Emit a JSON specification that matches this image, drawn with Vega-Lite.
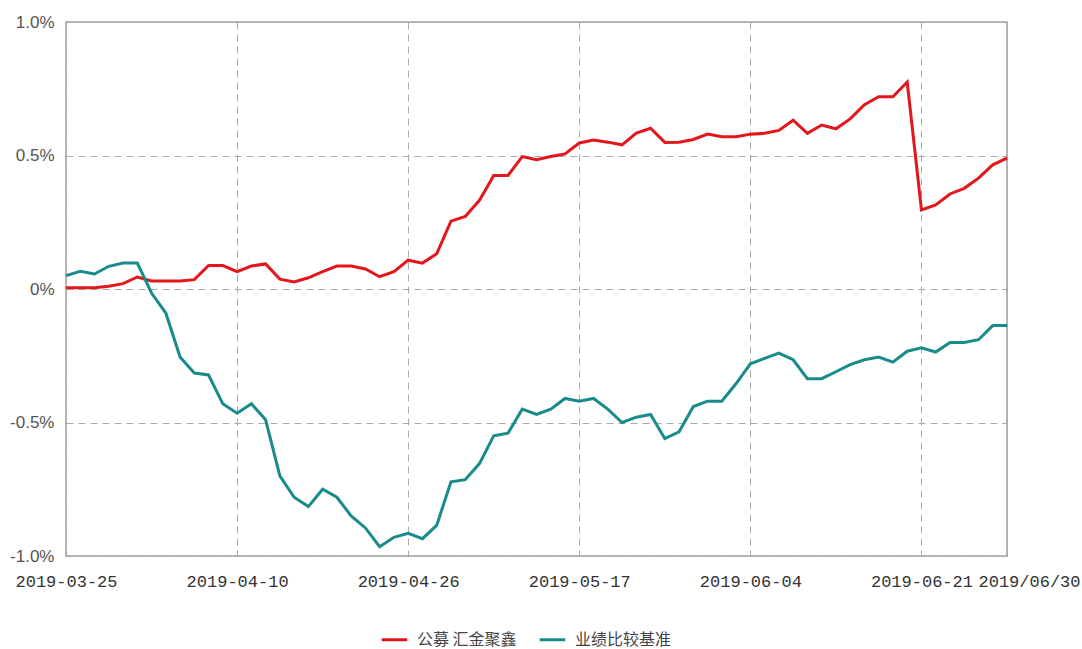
{
  "$schema": "https://vega.github.io/schema/vega-lite/v6.json",
  "autosize": {"type": "none"},
  "padding": {"left": 66, "top": 22, "right": 75, "bottom": 93},
  "width": 941,
  "height": 534,
  "background": "#ffffff",
  "config": {
    "view": {"stroke": "#a0a0a0", "strokeWidth": 1.5},
    "axis": {"domain": false, "ticks": false}
  },
  "data": {
    "values": [
      {"date": "2019-03-25", "series": "公募 汇金聚鑫", "value": 0.005},
      {"date": "2019-03-26", "series": "公募 汇金聚鑫", "value": 0.005},
      {"date": "2019-03-27", "series": "公募 汇金聚鑫", "value": 0.005},
      {"date": "2019-03-28", "series": "公募 汇金聚鑫", "value": 0.01},
      {"date": "2019-03-29", "series": "公募 汇金聚鑫", "value": 0.02},
      {"date": "2019-04-01", "series": "公募 汇金聚鑫", "value": 0.045},
      {"date": "2019-04-02", "series": "公募 汇金聚鑫", "value": 0.03},
      {"date": "2019-04-03", "series": "公募 汇金聚鑫", "value": 0.03},
      {"date": "2019-04-04", "series": "公募 汇金聚鑫", "value": 0.03},
      {"date": "2019-04-05", "series": "公募 汇金聚鑫", "value": 0.035},
      {"date": "2019-04-08", "series": "公募 汇金聚鑫", "value": 0.088},
      {"date": "2019-04-09", "series": "公募 汇金聚鑫", "value": 0.088},
      {"date": "2019-04-10", "series": "公募 汇金聚鑫", "value": 0.065},
      {"date": "2019-04-11", "series": "公募 汇金聚鑫", "value": 0.086},
      {"date": "2019-04-12", "series": "公募 汇金聚鑫", "value": 0.094},
      {"date": "2019-04-15", "series": "公募 汇金聚鑫", "value": 0.037},
      {"date": "2019-04-16", "series": "公募 汇金聚鑫", "value": 0.026},
      {"date": "2019-04-17", "series": "公募 汇金聚鑫", "value": 0.042},
      {"date": "2019-04-18", "series": "公募 汇金聚鑫", "value": 0.065},
      {"date": "2019-04-19", "series": "公募 汇金聚鑫", "value": 0.086},
      {"date": "2019-04-22", "series": "公募 汇金聚鑫", "value": 0.086},
      {"date": "2019-04-23", "series": "公募 汇金聚鑫", "value": 0.075},
      {"date": "2019-04-24", "series": "公募 汇金聚鑫", "value": 0.046},
      {"date": "2019-04-25", "series": "公募 汇金聚鑫", "value": 0.065},
      {"date": "2019-04-26", "series": "公募 汇金聚鑫", "value": 0.108},
      {"date": "2019-04-29", "series": "公募 汇金聚鑫", "value": 0.097},
      {"date": "2019-04-30", "series": "公募 汇金聚鑫", "value": 0.132},
      {"date": "2019-05-06", "series": "公募 汇金聚鑫", "value": 0.254},
      {"date": "2019-05-07", "series": "公募 汇金聚鑫", "value": 0.272},
      {"date": "2019-05-08", "series": "公募 汇金聚鑫", "value": 0.332},
      {"date": "2019-05-09", "series": "公募 汇金聚鑫", "value": 0.425},
      {"date": "2019-05-10", "series": "公募 汇金聚鑫", "value": 0.425},
      {"date": "2019-05-13", "series": "公募 汇金聚鑫", "value": 0.496},
      {"date": "2019-05-14", "series": "公募 汇金聚鑫", "value": 0.484},
      {"date": "2019-05-15", "series": "公募 汇金聚鑫", "value": 0.496},
      {"date": "2019-05-16", "series": "公募 汇金聚鑫", "value": 0.506},
      {"date": "2019-05-17", "series": "公募 汇金聚鑫", "value": 0.547},
      {"date": "2019-05-20", "series": "公募 汇金聚鑫", "value": 0.558},
      {"date": "2019-05-21", "series": "公募 汇金聚鑫", "value": 0.55},
      {"date": "2019-05-22", "series": "公募 汇金聚鑫", "value": 0.54},
      {"date": "2019-05-23", "series": "公募 汇金聚鑫", "value": 0.584},
      {"date": "2019-05-24", "series": "公募 汇金聚鑫", "value": 0.602},
      {"date": "2019-05-27", "series": "公募 汇金聚鑫", "value": 0.549},
      {"date": "2019-05-28", "series": "公募 汇金聚鑫", "value": 0.55},
      {"date": "2019-05-29", "series": "公募 汇金聚鑫", "value": 0.56},
      {"date": "2019-05-30", "series": "公募 汇金聚鑫", "value": 0.58},
      {"date": "2019-05-31", "series": "公募 汇金聚鑫", "value": 0.57},
      {"date": "2019-06-03", "series": "公募 汇金聚鑫", "value": 0.57},
      {"date": "2019-06-04", "series": "公募 汇金聚鑫", "value": 0.58},
      {"date": "2019-06-05", "series": "公募 汇金聚鑫", "value": 0.583},
      {"date": "2019-06-06", "series": "公募 汇金聚鑫", "value": 0.594},
      {"date": "2019-06-10", "series": "公募 汇金聚鑫", "value": 0.632},
      {"date": "2019-06-11", "series": "公募 汇金聚鑫", "value": 0.583},
      {"date": "2019-06-12", "series": "公募 汇金聚鑫", "value": 0.614},
      {"date": "2019-06-13", "series": "公募 汇金聚鑫", "value": 0.6},
      {"date": "2019-06-14", "series": "公募 汇金聚鑫", "value": 0.637},
      {"date": "2019-06-17", "series": "公募 汇金聚鑫", "value": 0.69},
      {"date": "2019-06-18", "series": "公募 汇金聚鑫", "value": 0.72},
      {"date": "2019-06-19", "series": "公募 汇金聚鑫", "value": 0.72},
      {"date": "2019-06-20", "series": "公募 汇金聚鑫", "value": 0.775},
      {"date": "2019-06-21", "series": "公募 汇金聚鑫", "value": 0.296},
      {"date": "2019-06-24", "series": "公募 汇金聚鑫", "value": 0.315},
      {"date": "2019-06-25", "series": "公募 汇金聚鑫", "value": 0.356},
      {"date": "2019-06-26", "series": "公募 汇金聚鑫", "value": 0.377},
      {"date": "2019-06-27", "series": "公募 汇金聚鑫", "value": 0.415},
      {"date": "2019-06-28", "series": "公募 汇金聚鑫", "value": 0.465},
      {"date": "2019/06/30", "series": "公募 汇金聚鑫", "value": 0.49},
      {"date": "2019-03-25", "series": "业绩比较基准", "value": 0.05},
      {"date": "2019-03-26", "series": "业绩比较基准", "value": 0.066},
      {"date": "2019-03-27", "series": "业绩比较基准", "value": 0.056},
      {"date": "2019-03-28", "series": "业绩比较基准", "value": 0.085},
      {"date": "2019-03-29", "series": "业绩比较基准", "value": 0.097},
      {"date": "2019-04-01", "series": "业绩比较基准", "value": 0.097},
      {"date": "2019-04-02", "series": "业绩比较基准", "value": -0.015},
      {"date": "2019-04-03", "series": "业绩比较基准", "value": -0.09},
      {"date": "2019-04-04", "series": "业绩比较基准", "value": -0.255},
      {"date": "2019-04-05", "series": "业绩比较基准", "value": -0.315},
      {"date": "2019-04-08", "series": "业绩比较基准", "value": -0.322},
      {"date": "2019-04-09", "series": "业绩比较基准", "value": -0.43},
      {"date": "2019-04-10", "series": "业绩比较基准", "value": -0.465},
      {"date": "2019-04-11", "series": "业绩比较基准", "value": -0.43},
      {"date": "2019-04-12", "series": "业绩比较基准", "value": -0.49},
      {"date": "2019-04-15", "series": "业绩比较基准", "value": -0.7},
      {"date": "2019-04-16", "series": "业绩比较基准", "value": -0.78},
      {"date": "2019-04-17", "series": "业绩比较基准", "value": -0.815},
      {"date": "2019-04-18", "series": "业绩比较基准", "value": -0.75},
      {"date": "2019-04-19", "series": "业绩比较基准", "value": -0.78},
      {"date": "2019-04-22", "series": "业绩比较基准", "value": -0.85},
      {"date": "2019-04-23", "series": "业绩比较基准", "value": -0.895},
      {"date": "2019-04-24", "series": "业绩比较基准", "value": -0.965},
      {"date": "2019-04-25", "series": "业绩比较基准", "value": -0.93},
      {"date": "2019-04-26", "series": "业绩比较基准", "value": -0.915},
      {"date": "2019-04-29", "series": "业绩比较基准", "value": -0.935},
      {"date": "2019-04-30", "series": "业绩比较基准", "value": -0.885},
      {"date": "2019-05-06", "series": "业绩比较基准", "value": -0.722},
      {"date": "2019-05-07", "series": "业绩比较基准", "value": -0.714},
      {"date": "2019-05-08", "series": "业绩比较基准", "value": -0.654},
      {"date": "2019-05-09", "series": "业绩比较基准", "value": -0.55},
      {"date": "2019-05-10", "series": "业绩比较基准", "value": -0.54},
      {"date": "2019-05-13", "series": "业绩比较基准", "value": -0.45},
      {"date": "2019-05-14", "series": "业绩比较基准", "value": -0.47},
      {"date": "2019-05-15", "series": "业绩比较基准", "value": -0.45},
      {"date": "2019-05-16", "series": "业绩比较基准", "value": -0.41},
      {"date": "2019-05-17", "series": "业绩比较基准", "value": -0.42},
      {"date": "2019-05-20", "series": "业绩比较基准", "value": -0.41},
      {"date": "2019-05-21", "series": "业绩比较基准", "value": -0.45},
      {"date": "2019-05-22", "series": "业绩比较基准", "value": -0.5},
      {"date": "2019-05-23", "series": "业绩比较基准", "value": -0.48},
      {"date": "2019-05-24", "series": "业绩比较基准", "value": -0.47},
      {"date": "2019-05-27", "series": "业绩比较基准", "value": -0.56},
      {"date": "2019-05-28", "series": "业绩比较基准", "value": -0.535},
      {"date": "2019-05-29", "series": "业绩比较基准", "value": -0.44},
      {"date": "2019-05-30", "series": "业绩比较基准", "value": -0.42},
      {"date": "2019-05-31", "series": "业绩比较基准", "value": -0.42},
      {"date": "2019-06-03", "series": "业绩比较基准", "value": -0.354},
      {"date": "2019-06-04", "series": "业绩比较基准", "value": -0.28},
      {"date": "2019-06-05", "series": "业绩比较基准", "value": -0.26},
      {"date": "2019-06-06", "series": "业绩比较基准", "value": -0.24},
      {"date": "2019-06-10", "series": "业绩比较基准", "value": -0.265},
      {"date": "2019-06-11", "series": "业绩比较基准", "value": -0.336},
      {"date": "2019-06-12", "series": "业绩比较基准", "value": -0.336},
      {"date": "2019-06-13", "series": "业绩比较基准", "value": -0.31},
      {"date": "2019-06-14", "series": "业绩比较基准", "value": -0.283},
      {"date": "2019-06-17", "series": "业绩比较基准", "value": -0.265},
      {"date": "2019-06-18", "series": "业绩比较基准", "value": -0.255},
      {"date": "2019-06-19", "series": "业绩比较基准", "value": -0.274},
      {"date": "2019-06-20", "series": "业绩比较基准", "value": -0.233},
      {"date": "2019-06-21", "series": "业绩比较基准", "value": -0.22},
      {"date": "2019-06-24", "series": "业绩比较基准", "value": -0.236},
      {"date": "2019-06-25", "series": "业绩比较基准", "value": -0.2},
      {"date": "2019-06-26", "series": "业绩比较基准", "value": -0.2},
      {"date": "2019-06-27", "series": "业绩比较基准", "value": -0.19},
      {"date": "2019-06-28", "series": "业绩比较基准", "value": -0.137},
      {"date": "2019/06/30", "series": "业绩比较基准", "value": -0.137}
    ]
  },
  "mark": {"type": "line", "strokeWidth": 3, "strokeJoin": "miter"},
  "encoding": {
    "x": {
      "field": "date",
      "type": "ordinal",
      "sort": null,
      "scale": {"type": "point", "padding": 0},
      "axis": {
        "title": null,
        "values": ["2019-03-25", "2019-04-10", "2019-04-26", "2019-05-17", "2019-06-04", "2019-06-21", "2019/06/30"],
        "labelAngle": 0,
        "labelFont": "Liberation Mono",
        "labelFontSize": 17,
        "labelColor": "#333333",
        "labelPadding": 17,
        "labelOverlap": false,
        "labelOffset": {"expr": "datum.value == '2019/06/30' ? 22 : 0"},
        "grid": true,
        "gridColor": "#aaaaaa",
        "gridDash": [7, 5],
        "gridWidth": 1
      }
    },
    "y": {
      "field": "value",
      "type": "quantitative",
      "scale": {"domain": [-1, 1], "nice": false, "zero": false},
      "axis": {
        "title": null,
        "values": [-1, -0.5, 0, 0.5, 1],
        "labelExpr": "datum.value == 0 ? '0%' : (datum.value < 0 ? '-' : '') + format(abs(datum.value), '.1f') + '%'",
        "labelFont": "Liberation Sans",
        "labelFontSize": 17,
        "labelColor": "#555555",
        "labelPadding": 12,
        "grid": true,
        "gridColor": "#aaaaaa",
        "gridDash": [7, 5],
        "gridWidth": 1
      }
    },
    "color": {
      "field": "series",
      "type": "nominal",
      "sort": ["公募 汇金聚鑫", "业绩比较基准"],
      "scale": {"domain": ["公募 汇金聚鑫", "业绩比较基准"], "range": ["#e3161c", "#1a8b8b"]},
      "legend": {
        "title": null,
        "orient": "none",
        "legendX": 314,
        "legendY": 603,
        "direction": "horizontal",
        "symbolType": "stroke",
        "symbolSize": 650,
        "symbolStrokeWidth": 3,
        "labelFont": "Noto Sans CJK SC",
        "labelFontSize": 16,
        "labelColor": "#444444",
        "labelOffset": 8,
        "columnPadding": 16
      }
    }
  }
}
